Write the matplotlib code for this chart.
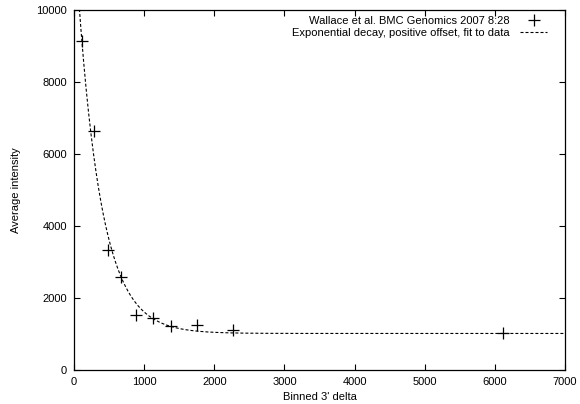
import numpy as np
import matplotlib
matplotlib.use("Agg")
import matplotlib.pyplot as plt

# Data
delta = [114, 280, 490, 675, 890, 1120, 1390, 1750, 2268, 6115]
intensity = [9140, 6640, 3330, 2585, 1540, 1450, 1222, 1262, 1120, 1018]

# Fitted exponential decay with positive offset: a*exp(-x/b) + c
fit_a = 11300.0
fit_b = 340.0
fit_c = 1015.0

xticks = [0, 1000, 2000, 3000, 4000, 5000, 6000, 7000]
yticks = [0, 2000, 4000, 6000, 8000, 10000]

plt.rcParams['font.family'] = ['Liberation Sans', 'DejaVu Sans']

fig = plt.figure(figsize=(5.80, 4.04), dpi=100)
ax = fig.add_axes([74/580, 34/404, (565-74)/580, (370-10)/404])

xf = np.linspace(0, 7000, 2000)
yf = fit_a * np.exp(-xf / fit_b) + fit_c

ax.plot(delta, intensity, linestyle='none', marker='+', markersize=9,
        markeredgewidth=0.9, color='black',
        label='Wallace et al. BMC Genomics 2007 8:28')
ax.plot(xf, yf, color='black', linewidth=0.8, dashes=(2.7, 1.8),
        label='Exponential decay, positive offset, fit to data')

ax.set_xlim(0, 7000)
ax.set_ylim(0, 10000)
ax.set_xticks(xticks)
ax.set_yticks(yticks)
ax.tick_params(direction='in', length=4, width=0.8, top=True, right=True,
               labelsize=8, pad=5)
for s in ax.spines.values():
    s.set_linewidth(0.9)

ax.set_xlabel("Binned 3' delta", fontsize=8, labelpad=4)
ax.set_ylabel("Average intensity", fontsize=8, labelpad=11)

ax.legend(loc='upper right', bbox_to_anchor=(0.9633, 0.9834), frameon=False,
          markerfirst=False, fontsize=8,
          handlelength=2.4, handletextpad=1.0, labelspacing=0.15,
          borderaxespad=0.0, borderpad=0.0)

fig.savefig('out.png', dpi=100)
